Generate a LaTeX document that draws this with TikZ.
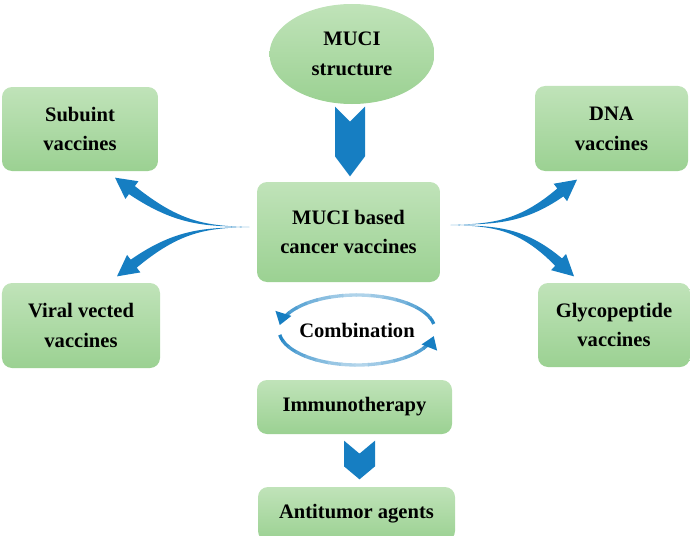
\documentclass[tikz,border=0pt]{standalone}
\usepackage{fontspec}
\setmainfont{Liberation Serif}
\usetikzlibrary{arrows.meta,positioning,calc,shapes.geometric}
\definecolor{arrowblue}{RGB}{22,126,194}
\definecolor{boxtop}{RGB}{192,227,185}
\definecolor{boxbottom}{RGB}{155,209,146}
\tikzset{every picture/.style={line width=0.75pt}}
\tikzset{
  vbox/.style={rectangle, rounded corners=0.2cm, top color=boxtop, bottom color=boxbottom,
    inner sep=0pt, align=center, font=\fontsize{11.7}{17}\selectfont\bfseries},
  vlabel/.style={font=\fontsize{11.7}{17}\selectfont\bfseries}
}
% 缺口箭头: 顶点, 尖端, 半宽, 缺口, 箭头长
\newcommand{\notcharrow}[5]{%
  \fill[arrowblue] ($(#1)+(-#3,0)$) -- ($(#1)+(0,-#4)$) -- ($(#1)+(#3,0)$)
    -- ($(#2)+(#3,#5)$) -- (#2) -- ($(#2)+(-#3,#5)$) -- cycle;}
% 弯曲渐宽箭头: 起点, 控制点, 尖端
\newcommand{\sweeparrow}[3]{%
  \coordinate (hb) at ($(#3)!0.42cm!(#2)$);
  \fill[arrowblue] (#1) .. controls ($(#1)!0.6!(#2)$) and ($(#2)!0.05cm!90:(#3)$) .. ($(hb)!0.1cm!90:(#3)$)
    -- ($(hb)!0.22cm!90:(#3)$) -- (#3) -- ($(hb)!0.22cm!-90:(#3)$)
    -- ($(hb)!0.1cm!-90:(#3)$) .. controls ($(#2)!0.05cm!-90:(#3)$) and ($(#1)!0.6!(#2)$) .. (#1) -- cycle;}

\begin{document}
\begin{tikzpicture}
    \useasboundingbox (0,0) rectangle (13.8,10.7);

    % 节点
    \node[ellipse, top color=boxtop, bottom color=boxbottom, inner sep=0pt,
      minimum width=3.3cm, minimum height=2cm, align=center, vlabel] (struct) at (7.04,9.62) {MUCI\\structure};
    \node[vbox, minimum width=3.66cm, minimum height=2cm] (core) at (6.97,6.06) {MUCI based\\cancer vaccines};
    \node[vbox, minimum width=3.12cm, minimum height=1.68cm] (sub) at (1.60,8.12) {Subuint\\vaccines};
    \node[vbox, minimum width=3.06cm, minimum height=1.7cm] (dna) at (12.23,8.13) {DNA\\vaccines};
    \node[vbox, minimum width=3.16cm, minimum height=1.7cm] (viral) at (1.62,4.19) {Viral vected\\vaccines};
    \node[vbox, minimum width=3.04cm, minimum height=1.68cm] (glyco) at (12.28,4.2) {Glycopeptide\\vaccines};
    \node[vlabel] (comb) at (7.14,4.1) {Combination};
    \node[vbox, minimum width=3.9cm, minimum height=1.08cm] (immuno) at (7.09,2.56) {Immunotherapy};
    \node[vbox, minimum width=3.94cm, minimum height=1.08cm] (anti) at (7.13,0.42) {Antitumor agents};

    % 竖直箭头
    \notcharrow{$(struct.south)+(-0.04,-0.04)$}{$(core.north)+(0.03,0.1)$}{0.3}{0.3}{0.4}
    \notcharrow{$(immuno.south)+(0.1,-0.12)$}{$(anti.north)+(0.06,0.14)$}{0.31}{0.26}{0.26}

    % 分支箭头
    \coordinate (lsrc) at ($(core.west)+(-0.14,0.1)$);
    \coordinate (rsrc) at ($(core.east)+(0.2,0.14)$);
    \coordinate (subtip) at ($(sub.south)+(0.70,-0.12)$);
    \coordinate (virtip) at ($(viral.north)+(0.72,0.12)$);
    \coordinate (dnatip) at ($(dna.south)+(-0.69,-0.16)$);
    \coordinate (glytip) at ($(glyco.north)+(-0.80,0.12)$);
    \sweeparrow{lsrc}{$(lsrc)+(-1.4,0.04)$}{subtip}
    \sweeparrow{lsrc}{$(lsrc)+(-1.4,-0.04)$}{virtip}
    \sweeparrow{rsrc}{$(rsrc)+(1.4,0.04)$}{dnatip}
    \sweeparrow{rsrc}{$(rsrc)+(1.4,-0.04)$}{glytip}

    % 循环箭头
    \foreach \a in {10,20,...,150} {
        \pgfmathsetmacro{\shade}{30+70*abs(\a+5-90)/85}
        \draw[arrowblue!\shade, line width=1.9pt] ($(comb)+({1.56*cos(\a)},{0.7*sin(\a)})$)
            arc[start angle=\a, end angle=\a+11, x radius=1.56cm, y radius=0.7cm];
    }
    \draw[arrowblue, line width=1.9pt, -{Triangle[length=7pt,width=9pt]}] ($(comb)+({1.56*cos(160)},{0.7*sin(160)})$)
        arc[start angle=160, end angle=172, x radius=1.56cm, y radius=0.7cm];
    \foreach \a in {188,198,...,328} {
        \pgfmathsetmacro{\shade}{30+70*abs(\a+5-270)/85}
        \draw[arrowblue!\shade, line width=1.9pt] ($(comb)+({1.56*cos(\a)},{0.7*sin(\a)})$)
            arc[start angle=\a, end angle=\a+11, x radius=1.56cm, y radius=0.7cm];
    }
    \draw[arrowblue, line width=1.9pt, -{Triangle[length=7pt,width=9pt]}] ($(comb)+({1.56*cos(338)},{0.7*sin(338)})$)
        arc[start angle=338, end angle=350, x radius=1.56cm, y radius=0.7cm];
\end{tikzpicture}
\end{document}
